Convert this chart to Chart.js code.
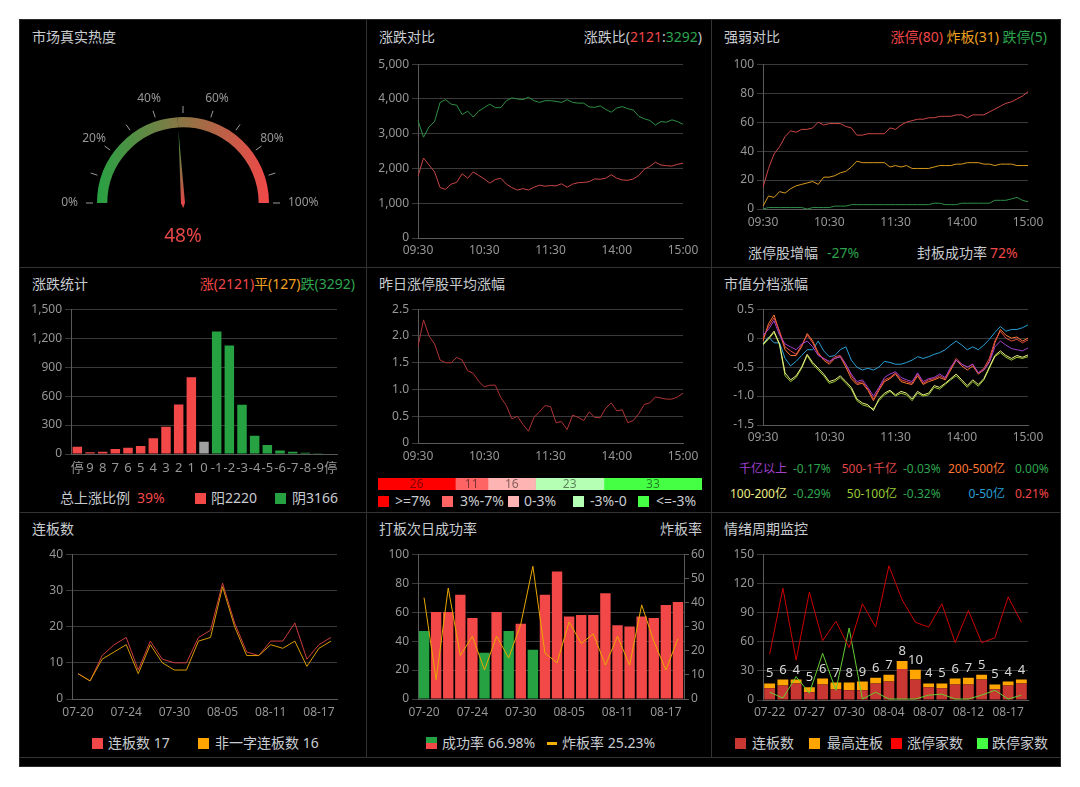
<!DOCTYPE html>
<html lang="zh-CN">
<head>
<meta charset="utf-8">
<title>市场情绪监控</title>
<script src="https://cdn.jsdelivr.net/npm/chart.js@4.4.1/dist/chart.umd.min.js"></script>
<style>
  html, body { margin: 0; padding: 0; background: #fff; }
  body { width: 1080px; height: 787px; position: relative; overflow: hidden;
         font-family: "Noto Sans", "Noto Sans CJK SC", sans-serif; }
  #board { position: absolute; left: 20px; top: 20px; width: 1040px; height: 746px;
           background: #000; box-shadow: 0 0 0 1px #2a2a2a; }
  .vline { position: absolute; top: 0; width: 1px; height: 737px; background: #333; }
  .hline { position: absolute; left: 0; height: 1px; width: 1040px; background: #333; }
  .panel { position: absolute; width: 345px; height: 245px; }
  .box { position: absolute; }
  .title, .rtitle, .txt { position: absolute; font-size: 14px; line-height: 18px;
                          color: #c8ccd0; white-space: nowrap; }
  .title { left: 12px; top: 8px; }
  .rtitle { right: 10px; top: 8px; }
  .small { font-size: 12px; line-height: 16px; }
  .sw { position: absolute; width: 11px; height: 11px; }
  .red { color: #f04848; }
  .green { color: #2ea44f; }
  .orange { color: #f0a020; }
</style>
</head>
<body>
<div id="board">
  <div class="vline" style="left:346px"></div>
  <div class="vline" style="left:691px"></div>
  <div class="hline" style="top:247px"></div>
  <div class="hline" style="top:492px"></div>
  <div class="hline" style="top:737px"></div>

  <div class="panel" id="p1" style="left:0;top:0">
    <div class="title">市场真实热度</div>
  </div>

  <div class="panel" id="p2" style="left:347px;top:0">
    <div class="title">涨跌对比</div>
    <div class="rtitle">涨跌比(<span class="red">2121</span>:<span class="green">3292</span>)</div>
  </div>

  <div class="panel" id="p3" style="left:692px;top:0">
    <div class="title">强弱对比</div>
    <div class="rtitle"><span class="red">涨停(80)</span> <span class="orange">炸板(31)</span> <span class="green">跌停(5)</span></div>
    <div class="txt" style="left:36px;top:224px">涨停股增幅</div>
    <div class="txt green" style="left:115px;top:224px">-27%</div>
    <div class="txt" style="left:205px;top:224px">封板成功率</div>
    <div class="txt red" style="left:278px;top:224px">72%</div>
  </div>

  <div class="panel" id="p4" style="left:0;top:247px">
    <div class="title">涨跌统计</div>
    <div class="rtitle"><span class="red">涨(2121)</span><span class="orange">平(127)</span><span class="green">跌(3292)</span></div>
    <div class="txt" style="left:40px;top:222px">总上涨比例</div>
    <div class="txt red" style="left:117px;top:222px">39%</div>
    <div class="sw" style="left:175px;top:226px;background:#f24848"></div>
    <div class="txt" style="left:191px;top:222px">阳2220</div>
    <div class="sw" style="left:255px;top:226px;background:#27a243"></div>
    <div class="txt" style="left:272px;top:222px">阴3166</div>
  </div>

  <div class="panel" id="p5" style="left:347px;top:247px">
    <div class="title">昨日涨停股平均涨幅</div>
    <div class="sw" style="left:11px;top:229px;background:#ff0000"></div>
    <div class="txt" style="left:28px;top:225px">&gt;=7%</div>
    <div class="sw" style="left:75px;top:229px;background:#ff6464"></div>
    <div class="txt" style="left:93px;top:225px">3%-7%</div>
    <div class="sw" style="left:141px;top:229px;background:#ffb4b4"></div>
    <div class="txt" style="left:157px;top:225px">0-3%</div>
    <div class="sw" style="left:206px;top:229px;background:#b4ffb4"></div>
    <div class="txt" style="left:223px;top:225px">-3%-0</div>
    <div class="sw" style="left:271px;top:229px;background:#44ff44"></div>
    <div class="txt" style="left:289px;top:225px">&lt;=-3%</div>
  </div>

  <div class="panel" id="p6" style="left:692px;top:247px">
    <div class="title">市值分档涨幅</div>
    <div class="txt small" style="right:270px;top:194px;color:#a040d0">千亿以上</div>
    <div class="txt small green" style="left:81px;top:194px">-0.17%</div>
    <div class="txt small" style="right:160px;top:194px;color:#e04848">500-1千亿</div>
    <div class="txt small green" style="left:191px;top:194px">-0.03%</div>
    <div class="txt small" style="right:52px;top:194px;color:#ff7733">200-500亿</div>
    <div class="txt small green" style="left:303px;top:194px">0.00%</div>
    <div class="txt small" style="right:270px;top:219px;color:#eeee88">100-200亿</div>
    <div class="txt small green" style="left:81px;top:219px">-0.29%</div>
    <div class="txt small" style="right:160px;top:219px;color:#99cc33">50-100亿</div>
    <div class="txt small green" style="left:191px;top:219px">-0.32%</div>
    <div class="txt small" style="right:52px;top:219px;color:#2a9fd6">0-50亿</div>
    <div class="txt small red" style="left:303px;top:219px">0.21%</div>
  </div>

  <div class="panel" id="p7" style="left:0;top:492px">
    <div class="title">连板数</div>
    <div class="sw" style="left:72px;top:226px;background:#f04848"></div>
    <div class="txt" style="left:88px;top:222px">连板数 17</div>
    <div class="sw" style="left:178px;top:226px;background:#ffa500"></div>
    <div class="txt" style="left:195px;top:222px">非一字连板数 16</div>
  </div>

  <div class="panel" id="p8" style="left:347px;top:492px">
    <div class="title">打板次日成功率</div>
    <div class="rtitle">炸板率</div>
    <div class="sw" style="left:59px;top:225px;height:12px;background:linear-gradient(#27a243 50%,#f24848 50%)"></div>
    <div class="txt" style="left:75px;top:222px">成功率 66.98%</div>
    <div style="position:absolute;left:180px;top:230px;width:10px;height:3px;background:#f0b000"></div>
    <div class="txt" style="left:195px;top:222px">炸板率 25.23%</div>
  </div>

  <div class="panel" id="p9" style="left:692px;top:492px">
    <div class="title">情绪周期监控</div>
    <div class="sw" style="left:23px;top:226px;background:#c83732"></div>
    <div class="txt" style="left:40px;top:222px">连板数</div>
    <div class="sw" style="left:97px;top:226px;background:#ffa500"></div>
    <div class="txt" style="left:115px;top:222px">最高连板</div>
    <div class="sw" style="left:179px;top:226px;background:#ff0000"></div>
    <div class="txt" style="left:195px;top:222px">涨停家数</div>
    <div class="sw" style="left:265px;top:226px;background:#44ff44"></div>
    <div class="txt" style="left:280px;top:222px">跌停家数</div>
  </div>
</div>

<script>
// ---- data ----
const heatValue = 48;
const heatTicks = [0, 20, 40, 60, 80, 100];

// intraday, one point every 5 minutes
const timeLabels = [];
for (let m = 0; m <= 240; m += 5) {
  const t = m <= 120 ? 570 + m : 660 + m;
  timeLabels.push(String(Math.floor(t / 60)).padStart(2, "0") + ":" + String(t % 60).padStart(2, "0"));
}

const upCount = [1780, 2300, 2100, 1900, 1450, 1400, 1550, 1600, 1850, 1720,
  1900, 1800, 1700, 1580, 1680, 1720, 1550, 1450, 1380, 1420,
  1380, 1460, 1520, 1490, 1510, 1500, 1560, 1460, 1550, 1590,
  1600, 1620, 1700, 1690, 1720, 1820, 1720, 1670, 1660, 1700,
  1800, 1980, 2060, 2180, 2100, 2080, 2070, 2120, 2150];
const downCount = [3380, 2900, 3200, 3350, 3900, 3980, 3850, 3820, 3550, 3650,
  3480, 3650, 3750, 3850, 3750, 3750, 3950, 4030, 4000, 3980,
  4050, 3950, 3900, 3950, 3950, 3930, 3900, 3980, 3900, 3880,
  3880, 3770, 3760, 3800, 3700, 3620, 3740, 3780, 3720, 3680,
  3500, 3430, 3380, 3250, 3350, 3330, 3400, 3350, 3270];

const limitUp = [15, 28, 38, 43, 50, 54, 53, 55, 55, 56,
  60, 58, 59, 59, 59, 57, 56, 51, 51, 52,
  52, 52, 52, 56, 55, 58, 60, 61, 62, 62,
  63, 63, 64, 64, 64, 65, 65, 63, 65, 65,
  65, 67, 69, 71, 73, 74, 76, 78, 81];
const brokenBoard = [2, 9, 8, 12, 11, 14, 16, 17, 18, 19,
  17, 22, 22, 23, 25, 26, 29, 33, 32, 32,
  32, 32, 32, 29, 30, 29, 30, 28, 28, 28,
  28, 29, 30, 30, 30, 31, 31, 32, 32, 32,
  31, 31, 30, 31, 31, 31, 30, 30, 30];
const limitDown = [0, 1, 1, 1, 1, 1, 1, 1, 0, 1,
  1, 1, 1, 2, 2, 2, 3, 3, 3, 3,
  3, 3, 3, 3, 3, 3, 3, 3, 3, 3,
  3, 4, 4, 3, 3, 3, 4, 4, 4, 4,
  4, 4, 6, 6, 6, 7, 8, 6, 5];

const riseLabels = ["停", "9", "8", "7", "6", "5", "4", "3", "2", "1", "0",
  "-1", "-2", "-3", "-4", "-5", "-6", "-7", "-8", "-9", "停"];
const riseCounts = [75, 17, 24, 51, 65, 82, 164, 283, 513, 795, 126,
  1268, 1125, 511, 188, 92, 37, 24, 14, 7, 5];

const yesterdayLimitAvg = [1.8, 2.3, 2.0, 1.85, 1.55, 1.5, 1.5, 1.6, 1.55, 1.35,
  1.3, 1.15, 1.05, 1.08, 1.08, 0.85, 0.7, 0.45, 0.5, 0.35,
  0.22, 0.48, 0.58, 0.7, 0.68, 0.38, 0.4, 0.25, 0.52, 0.48,
  0.42, 0.58, 0.48, 0.47, 0.65, 0.75, 0.6, 0.62, 0.38, 0.42,
  0.55, 0.72, 0.75, 0.86, 0.84, 0.82, 0.82, 0.86, 0.93];
const bandLabels = [">=7%", "3%-7%", "0-3%", "-3%-0", "<=-3%"];
const bandCounts = [26, 11, 16, 23, 33];

const capNames = ["千亿以上", "500-1千亿", "200-500亿", "100-200亿", "50-100亿", "0-50亿"];
const capOver1000 = [0.05, 0.15, 0.3, 0.05, -0.1, -0.15, -0.2, -0.1, -0.05, -0.15,
  -0.3, -0.35, -0.4, -0.35, -0.32, -0.45, -0.62, -0.75, -0.72, -0.85,
  -1.0, -0.85, -0.68, -0.62, -0.58, -0.68, -0.72, -0.75, -0.6, -0.75,
  -0.7, -0.68, -0.62, -0.68, -0.5, -0.38, -0.45, -0.5, -0.45, -0.6,
  -0.55, -0.42, -0.15, -0.05, -0.12, -0.18, -0.2, -0.22, -0.17];
const cap500to1000 = [0.0, 0.2, 0.35, 0.12, -0.15, -0.22, -0.28, -0.12, 0.05, -0.08,
  -0.28, -0.35, -0.42, -0.32, -0.3, -0.45, -0.65, -0.78, -0.75, -0.88,
  -1.05, -0.88, -0.72, -0.68, -0.6, -0.72, -0.75, -0.78, -0.62, -0.78,
  -0.72, -0.7, -0.65, -0.7, -0.52, -0.35, -0.45, -0.5, -0.45, -0.6,
  -0.52, -0.35, -0.05, 0.12, 0.0, -0.05, -0.02, -0.08, -0.03];
const cap200to500 = [-0.05, 0.25, 0.4, 0.1, -0.2, -0.3, -0.3, -0.15, 0.08, -0.05,
  -0.25, -0.38, -0.45, -0.35, -0.32, -0.5, -0.7, -0.8, -0.78, -0.9,
  -1.08, -0.9, -0.75, -0.7, -0.62, -0.75, -0.78, -0.8, -0.65, -0.8,
  -0.75, -0.72, -0.68, -0.72, -0.55, -0.38, -0.48, -0.55, -0.48, -0.62,
  -0.55, -0.4, -0.08, 0.15, 0.05, 0.0, 0.02, -0.05, 0.0];
const cap100to200 = [-0.1, 0.0, 0.12, -0.1, -0.6, -0.72, -0.65, -0.5, -0.28, -0.42,
  -0.52, -0.62, -0.75, -0.72, -0.65, -0.75, -0.85, -1.05, -1.12, -1.15,
  -1.25, -1.05, -0.95, -0.9, -0.98, -0.92, -0.95, -1.05, -0.92, -0.98,
  -0.95, -0.82, -0.85, -0.78, -0.7, -0.62, -0.72, -0.82, -0.72, -0.8,
  -0.7, -0.5, -0.3, -0.22, -0.3, -0.35, -0.3, -0.33, -0.29];
const cap50to100 = [-0.12, -0.02, 0.1, -0.12, -0.65, -0.75, -0.68, -0.52, -0.3, -0.45,
  -0.55, -0.65, -0.78, -0.75, -0.68, -0.78, -0.88, -1.08, -1.15, -1.18,
  -1.22, -1.08, -0.98, -0.92, -1.0, -0.95, -0.98, -1.08, -0.95, -1.0,
  -0.98, -0.85, -0.88, -0.8, -0.72, -0.65, -0.75, -0.85, -0.75, -0.83,
  -0.72, -0.52, -0.32, -0.25, -0.33, -0.38, -0.33, -0.35, -0.32];
const capUnder50 = [-0.1, 0.02, -0.08, -0.08, -0.35, -0.48, -0.4, -0.3, -0.2, -0.2,
  -0.05, -0.22, -0.32, -0.3, -0.2, -0.15, -0.38, -0.5, -0.55, -0.52,
  -0.55, -0.5, -0.4, -0.42, -0.45, -0.45, -0.42, -0.38, -0.32, -0.35,
  -0.32, -0.28, -0.25, -0.2, -0.12, -0.05, -0.12, -0.2, -0.15, -0.2,
  -0.12, -0.02, 0.1, 0.2, 0.12, 0.15, 0.15, 0.18, 0.23];

const boardDates = ["07-20", "07-21", "07-22", "07-23", "07-24", "07-27", "07-28", "07-29",
  "07-30", "07-31", "08-03", "08-04", "08-05", "08-06", "08-07", "08-10", "08-11", "08-12",
  "08-13", "08-14", "08-17", "08-18"];
const boardCount = [7, 5, 12, 15, 17, 8, 16, 11, 10, 10, 17, 19, 32, 21, 13, 12, 16, 16, 21, 11, 15, 17];
const nonOneWordCount = [7, 5, 11, 13, 15, 7, 15, 10, 8, 8, 16, 17, 31, 20, 12, 12, 15, 14, 16, 9, 14, 16];

const successRate = [47, 60, 60, 72, 56, 32, 60, 47, 52, 34, 72, 88, 57, 58, 58, 73, 51, 50, 57, 56, 65, 67];
const brokenRate = [42, 8, 46, 18, 26, 12, 26, 17, 31, 55, 19, 15, 32, 23, 27, 14, 26, 14, 39, 24, 12, 25];

const cycleDates = ["07-22", "07-23", "07-24", "07-27", "07-28", "07-29", "07-30", "07-31",
  "08-03", "08-04", "08-05", "08-06", "08-07", "08-10", "08-11", "08-12", "08-13", "08-14",
  "08-17", "08-18"];
const cycleBoard = [12, 15, 17, 8, 16, 11, 10, 10, 17, 19, 32, 21, 13, 12, 16, 16, 21, 11, 15, 17];
const cycleTop = [5, 6, 4, 5, 6, 7, 8, 9, 6, 7, 8, 10, 4, 5, 6, 7, 5, 5, 4, 4];
const cycleLimitUp = [47, 115, 41, 111, 61, 81, 54, 99, 75, 138, 103, 80, 75, 99, 59, 92, 59, 64, 106, 80];
const cycleLimitDown = [8, 2, 24, 7, 48, 10, 74, 1, 8, 1, 1, 1, 5, 6, 1, 1, 5, 10, 1, 5];

// ---- styles ----
const FONT = '"Noto Sans", "Noto Sans CJK SC", sans-serif';
const GRID = "#3a3a3a";
const AXIS = "#5a5a5a";
const RED = "#f24848";
const GREEN = "#27a243";

Chart.defaults.font.family = FONT;
Chart.defaults.font.size = 12;
Chart.defaults.color = "#969696";
Chart.defaults.animation = false;
Chart.defaults.plugins.legend.display = false;
Chart.defaults.plugins.tooltip.enabled = false;
Chart.defaults.elements.point.radius = 0;
Chart.defaults.elements.line.borderWidth = 1;

function addCanvas(panelId, left, top, w, h) {
  const wrap = document.createElement("div");
  wrap.className = "box";
  wrap.style.left = left + "px";
  wrap.style.top = top + "px";
  const cv = document.createElement("canvas");
  cv.width = w;
  cv.height = h;
  cv.style.width = w + "px";
  cv.style.height = h + "px";
  wrap.appendChild(cv);
  document.getElementById(panelId).appendChild(wrap);
  return cv;
}

// plot area L..R / T..B inside the panel; y axis 50px wide, x axis 24px tall
function chartAt(panelId, L, T, R, B, config, padRight = 22, rightAxis = 0) {
  const cv = addCanvas(panelId, L - 50, T - 8, R - L + 50 + padRight + rightAxis, B - T + 8 + 24);
  config.options = config.options || {};
  config.options.responsive = false;
  config.options.layout = { padding: { top: 8, right: padRight, left: 0, bottom: 0 } };
  return new Chart(cv, config);
}

function yAxis(min, max, step) {
  return {
    min, max,
    ticks: { stepSize: step, padding: 3 },
    grid: { color: GRID, tickLength: 6 },
    border: { color: AXIS },
    afterFit(s) { s.width = 50; },
  };
}

function xAxis(every, pad, offset) {
  return {
    offset,
    grid: { display: false, drawTicks: false },
    border: { color: AXIS },
    ticks: {
      autoSkip: false, maxRotation: 0, minRotation: 0, padding: pad,
      callback(v, i) { return i % every === 0 ? this.getLabelForValue(v) : ""; },
    },
    afterFit(s) { s.height = 24; },
  };
}

// ---- 市场真实热度 ----
const gaugePlugin = {
  id: "gauge",
  afterDatasetsDraw(chart) {
    const arc = chart.getDatasetMeta(0).data[0];
    const cx = arc.x, cy = arc.y, R = arc.outerRadius;
    const c = chart.ctx;
    c.save();
    c.strokeStyle = "#9a9a9a";
    c.lineWidth = 1;
    for (let p = 0; p <= 100; p += 10) {
      const a = Math.PI + (p / 100) * Math.PI;
      c.beginPath();
      c.moveTo(cx + (R + 4) * Math.cos(a), cy + (R + 4) * Math.sin(a));
      c.lineTo(cx + (R + 11) * Math.cos(a), cy + (R + 11) * Math.sin(a));
      c.stroke();
    }
    c.fillStyle = "#969696";
    c.font = "12px " + FONT;
    c.textAlign = "center";
    c.textBaseline = "middle";
    heatTicks.forEach((p) => {
      const a = Math.PI + (p / 100) * Math.PI;
      const text = p + "%";
      let r = R + 24;
      // labels at the two ends sit beside the tick, pushed out by half their width
      if (Math.abs(Math.sin(a)) < 0.1) r += c.measureText(text).width / 2 - 5;
      c.fillText(text, cx + r * Math.cos(a), cy + (R + 24) * Math.sin(a));
    });
    // needle at the end of the value arc
    const a = arc.endAngle;
    const L = R * 0.84;
    const ux = Math.cos(a), uy = Math.sin(a);
    const tipX = cx + L * ux, tipY = cy + L * uy;
    const g = c.createLinearGradient(tipX, tipY, cx, cy);
    g.addColorStop(0, "#2e9e44");
    g.addColorStop(1, "#e04848");
    c.fillStyle = g;
    c.beginPath();
    c.moveTo(tipX, tipY);
    c.lineTo(cx - 2 * uy, cy + 2 * ux);
    c.lineTo(cx - 5 * ux, cy - 5 * uy);
    c.lineTo(cx + 2 * uy, cy - 2 * ux);
    c.closePath();
    c.fill();
    c.fillStyle = "#e84848";
    c.font = "19px " + FONT;
    c.fillText(heatValue + "%", cx, cy + 34);
    c.restore();
  },
};

function gaugeFill(ctx) {
  const area = ctx.chart.chartArea;
  if (!area) return "#888";
  const g = ctx.chart.ctx.createLinearGradient(area.left, 0, area.right, 0);
  g.addColorStop(0, "#27a243");
  g.addColorStop(1, "#f24848");
  return g;
}

new Chart(addCanvas("p1", 0, 0, 345, 245), {
  type: "doughnut",
  data: {
    labels: ["热度", ""],
    datasets: [{ data: [heatValue, 100 - heatValue], backgroundColor: gaugeFill, borderWidth: 0 }],
  },
  options: {
    responsive: false,
    rotation: -90,
    circumference: 180,
    cutout: "88%",
    layout: { padding: { left: 77, right: 96, top: 97, bottom: 62 } },
  },
  plugins: [gaugePlugin],
});

// ---- 涨跌对比 ----
chartAt("p2", 51, 42, 316, 218, {
  type: "line",
  data: {
    labels: timeLabels,
    datasets: [
      { label: "涨", data: upCount, borderColor: "#c84646" },
      { label: "跌", data: downCount, borderColor: "#2e8f45" },
    ],
  },
  options: { scales: { x: xAxis(12, 5, false), y: yAxis(0, 5000, 1000) } },
});

// ---- 强弱对比 ----
chartAt("p3", 51, 42, 316, 189, {
  type: "line",
  data: {
    labels: timeLabels,
    datasets: [
      { label: "跌停", data: limitDown, borderColor: "#2e8f45" },
      { label: "炸板", data: brokenBoard, borderColor: "#d89a1e" },
      { label: "涨停", data: limitUp, borderColor: "#cc4646" },
    ],
  },
  options: { scales: { x: xAxis(12, 6, false), y: yAxis(0, 100, 20) } },
});

// ---- 涨跌统计 ----
const zeroIndex = riseLabels.indexOf("0");
const riseX = xAxis(1, 6, true);
riseX.ticks.font = { size: 13 };
chartAt("p4", 51, 40, 317, 187, {
  type: "bar",
  data: {
    labels: riseLabels,
    datasets: [{
      label: "家数",
      data: riseCounts,
      backgroundColor: (ctx) => ctx.dataIndex === zeroIndex ? "#a0a0a0" : (ctx.dataIndex < zeroIndex ? RED : GREEN),
      barPercentage: 0.75,
      categoryPercentage: 1,
    }],
  },
  options: { scales: { x: riseX, y: yAxis(0, 1500, 300) } },
});

// ---- 昨日涨停股平均涨幅 ----
chartAt("p5", 51, 40, 316, 176, {
  type: "line",
  data: {
    labels: timeLabels,
    datasets: [{ label: "平均涨幅", data: yesterdayLimitAvg, borderColor: "#b03434" }],
  },
  options: { scales: { x: xAxis(12, 6, false), y: yAxis(0, 2.5, 0.5) } },
});

const bandColors = ["#ff0000", "#ff6464", "#ffb4b4", "#b4ffb4", "#44ff44"];
const bandLabelPlugin = {
  id: "bandLabels",
  afterDatasetsDraw(chart) {
    const c = chart.ctx;
    c.save();
    c.fillStyle = "rgba(0,0,0,0.5)";
    c.font = "12px " + FONT;
    c.textAlign = "center";
    c.textBaseline = "middle";
    chart.data.datasets.forEach((ds, i) => {
      const bar = chart.getDatasetMeta(i).data[0];
      c.fillText(String(ds.data[0]), (bar.x + bar.base) / 2, bar.y + 1);
    });
    c.restore();
  },
};
new Chart(addCanvas("p5", 11, 211, 324, 12), {
  type: "bar",
  data: {
    labels: [""],
    datasets: bandCounts.map((v, i) => ({
      label: bandLabels[i], data: [v], backgroundColor: bandColors[i],
      barPercentage: 1, categoryPercentage: 1, borderWidth: 0,
    })),
  },
  options: {
    responsive: false,
    indexAxis: "y",
    layout: { padding: 0 },
    scales: {
      x: { stacked: true, display: false, min: 0, max: bandCounts.reduce((a, b) => a + b, 0) },
      y: { stacked: true, display: false },
    },
  },
  plugins: [bandLabelPlugin],
});

// ---- 市值分档涨幅 ----
const capSeries = [capOver1000, cap500to1000, cap200to500, cap100to200, cap50to100, capUnder50];
const capColors = ["#a040d0", "#e04848", "#ff7733", "#eeee88", "#99cc33", "#2a9fd6"];
chartAt("p6", 51, 40, 316, 158, {
  type: "line",
  data: {
    labels: timeLabels,
    datasets: capSeries.map((s, i) => ({ label: capNames[i], data: s, borderColor: capColors[i] })),
  },
  options: { scales: { x: xAxis(12, 5, false), y: yAxis(-1.5, 0.5, 0.5) } },
});

// ---- 连板数 ----
chartAt("p7", 52, 40, 317, 187, {
  type: "line",
  data: {
    labels: boardDates,
    datasets: [
      { label: "非一字连板数", data: nonOneWordCount, borderColor: "#d99a00" },
      { label: "连板数", data: boardCount, borderColor: "#cc3c3c" },
    ],
  },
  options: { scales: { x: xAxis(4, 6, true), y: yAxis(0, 40, 10) } },
});

// ---- 打板次日成功率 ----
chartAt("p8", 51, 40, 317, 187, {
  type: "bar",
  data: {
    labels: boardDates,
    datasets: [
      { type: "line", label: "炸板率", data: brokenRate, yAxisID: "y2", borderColor: "#eaa800", order: 1 },
      {
        label: "成功率", data: successRate, order: 2,
        backgroundColor: (ctx) => successRate[ctx.dataIndex] < 50 ? GREEN : RED,
        barPercentage: 0.86, categoryPercentage: 1,
      },
    ],
  },
  options: {
    scales: {
      x: xAxis(4, 6, true),
      y: yAxis(0, 100, 20),
      y2: {
        position: "right", min: 0, max: 60,
        ticks: { stepSize: 10, padding: 2 },
        grid: { drawOnChartArea: false, color: AXIS, tickLength: 5 },
        border: { color: AXIS },
        afterFit(s) { s.width = 28; },
      },
    },
  },
}, 0, 28);

// ---- 情绪周期监控 ----
const topLabelPlugin = {
  id: "topLabels",
  afterDatasetsDraw(chart) {
    const meta = chart.getDatasetMeta(3);
    const c = chart.ctx;
    c.save();
    c.fillStyle = "#d8d8d8";
    c.font = "13px " + FONT;
    c.textAlign = "center";
    c.textBaseline = "alphabetic";
    meta.data.forEach((bar, i) => c.fillText(String(cycleTop[i]), bar.x, bar.y - 6));
    c.restore();
  },
};
const cycleX = xAxis(3, 5, true);
cycleX.stacked = true;
const cycleY = yAxis(0, 150, 30);
cycleY.stacked = true;
chartAt("p9", 51, 40, 316, 188, {
  type: "bar",
  data: {
    labels: cycleDates,
    datasets: [
      { type: "line", label: "涨停家数", data: cycleLimitUp, borderColor: "#cc0000", stack: "up", order: 1 },
      { type: "line", label: "跌停家数", data: cycleLimitDown, borderColor: "#66cc33", stack: "down", order: 1 },
      { label: "连板数", data: cycleBoard, backgroundColor: "#c83732", stack: "s", order: 2, barPercentage: 0.82, categoryPercentage: 1 },
      { label: "最高连板", data: cycleTop, backgroundColor: "#ffa500", stack: "s", order: 2, barPercentage: 0.82, categoryPercentage: 1 },
    ],
  },
  options: { scales: { x: cycleX, y: cycleY } },
  plugins: [topLabelPlugin],
});
</script>
</body>
</html>
